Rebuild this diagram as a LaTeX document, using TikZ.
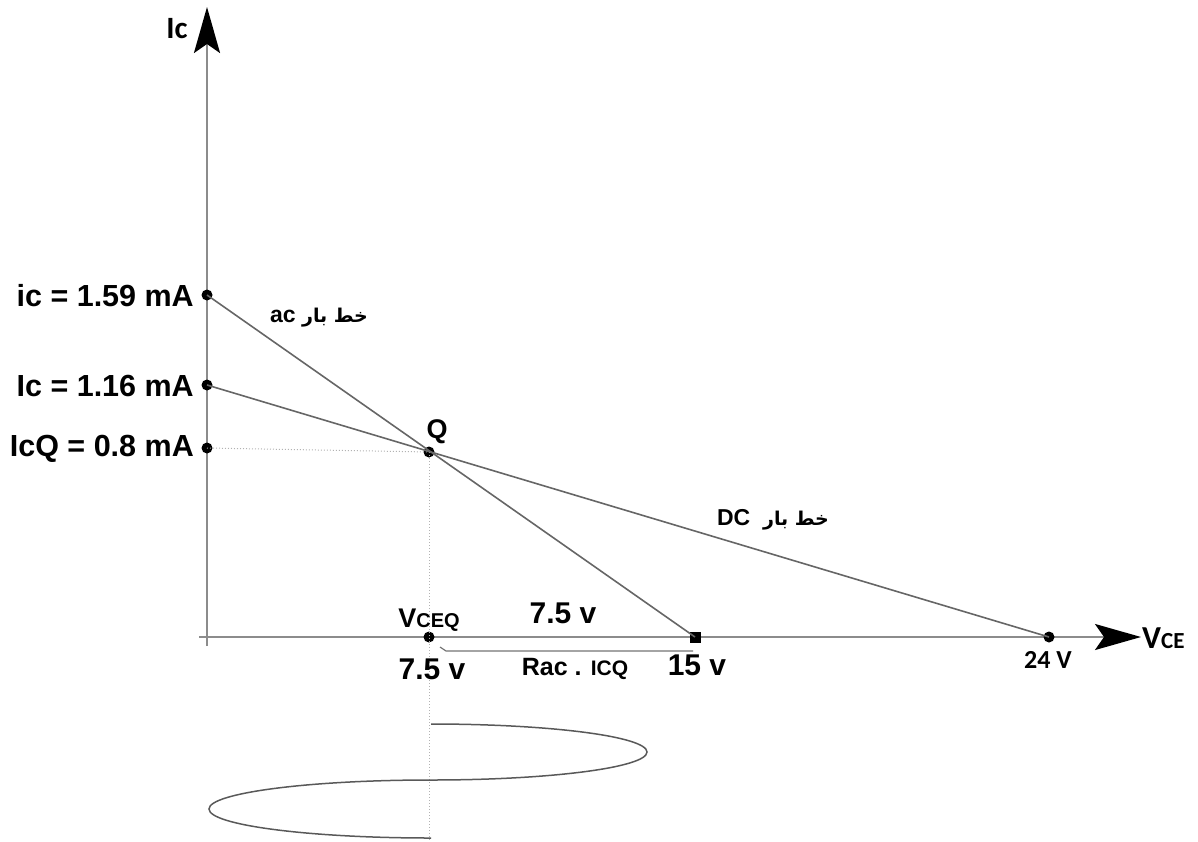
\documentclass[tikz,border=0pt]{standalone}
\usepackage{fontspec}
\setmainfont{Liberation Sans}
\newfontfamily\calfont{Carlito}
\newfontfamily\arabicfont[Script=Arabic]{DejaVu Sans}
\TeXXeTstate=1
\usetikzlibrary{arrows.meta}
\tikzset{
  axisline/.style={draw=black!45, line width=2.3pt},
  loadline/.style={draw=black!60, line width=1.6pt},
  guide/.style={draw=black!30, dotted, line width=1pt},
  dotpt/.style={circle, fill=black, inner sep=0pt, minimum size=11pt},
  sqpt/.style={rectangle, fill=black, inner sep=0pt, minimum size=11pt},
  lbl/.style={inner sep=0pt, font=\bfseries\fontsize{30.5}{32}\selectfont},
  mid/.style={inner sep=0pt, font=\bfseries\fontsize{30}{32}\selectfont},
  arab/.style={inner sep=0pt, font=\bfseries\fontsize{23}{25}\selectfont},
  bighead/.style={-{Stealth[length=46pt,width=26pt,inset=9pt,color=black]}},
  wave/.style={draw=black!65, line width=1.5pt}
}
\begin{document}
\begin{tikzpicture}[x=1pt,y=-1pt]
\useasboundingbox (0,0) rectangle (1198,841);
% axes
\coordinate (ybot) at (207,646);
\coordinate (ytop) at (207,7);
\coordinate (xleft) at (199,637);
\coordinate (xright) at (1141,637);
\draw[axisline, bighead] (ybot) -- (ytop);
\draw[axisline, bighead] (xleft) -- (xright);
\node[inner sep=0pt, font=\calfont\bfseries\fontsize{31}{33}\selectfont] (iclab) at (177,29) {Ic};
\node[inner sep=0pt, anchor=west, font=\calfont\bfseries] (vcelab) at (1142,638) {{\fontsize{32}{34}\selectfont V}{\fontsize{23}{25}\selectfont CE}};
% points
\node[dotpt] (p159) at (207,295) {};
\node[dotpt] (p116) at (207,385) {};
\node[dotpt] (picq) at (207,448) {};
\node[dotpt] (q) at (429,452) {};
\node[dotpt] (vceq) at (429,637) {};
\node[sqpt] (p15) at (695,637) {};
\node[dotpt] (p24) at (1049,637) {};
\coordinate (vbot) at (429,841);
% guides
\draw[guide] (picq.center) -- (q.center);
\draw[guide] (q.center) -- (vbot);
% load lines
\draw[loadline] (p159.center) -- (p15.center);
\draw[loadline] (p116.center) -- (p24.center);
% bracket
\coordinate (b1) at (440,647);
\coordinate (b2) at (446,651);
\coordinate (b3) at (693,651);
\draw[draw=black!55, line width=1.2pt] (b1) -- (b2) -- (b3);
% labels
\node[lbl, anchor=east] (l159) at (194,296) {ic = 1.59 mA};
\node[lbl, anchor=east] (l116) at (194,386) {Ic = 1.16 mA};
\node[lbl, anchor=east] (licq) at (194,449) {IcQ = 0.8 mA};
\node[inner sep=0pt, font=\bfseries\fontsize{27}{29}\selectfont] (lq) at (437,432) {Q};
\node[inner sep=0pt, font=\bfseries] (lvceq) at (429,620) {{\fontsize{27}{29}\selectfont V}{\fontsize{20}{22}\selectfont CEQ}};
\node[mid] (l75a) at (563,613) {7.5 v};
\node[mid] (l75b) at (432,669) {7.5 v};
\node[inner sep=0pt, font=\bfseries] (lrac) at (575,669) {{\fontsize{25}{27}\selectfont Rac . }{\fontsize{21}{23}\selectfont ICQ}};
\node[mid] (l15) at (697,665) {15 v};
\node[inner sep=0pt, font=\calfont\bfseries\fontsize{26}{28}\selectfont] (l24) at (1048,660) {24 V};
\node[arab] (lac) at (319,318) {ac {\arabicfont\fontsize{19}{21}\selectfont\bfseries\beginR خط بار\endR}};
\node[arab] (ldc) at (773,520) {DC\ \ {\arabicfont\fontsize{19}{21}\selectfont\bfseries\beginR خط بار\endR}};
% signal
\coordinate (w0) at (431,724);
\draw[wave] (w0) arc[start angle=-90, end angle=90, x radius=216, y radius=28]
  arc[start angle=-90, end angle=-270, x radius=222, y radius=29];
\end{tikzpicture}
\end{document}
